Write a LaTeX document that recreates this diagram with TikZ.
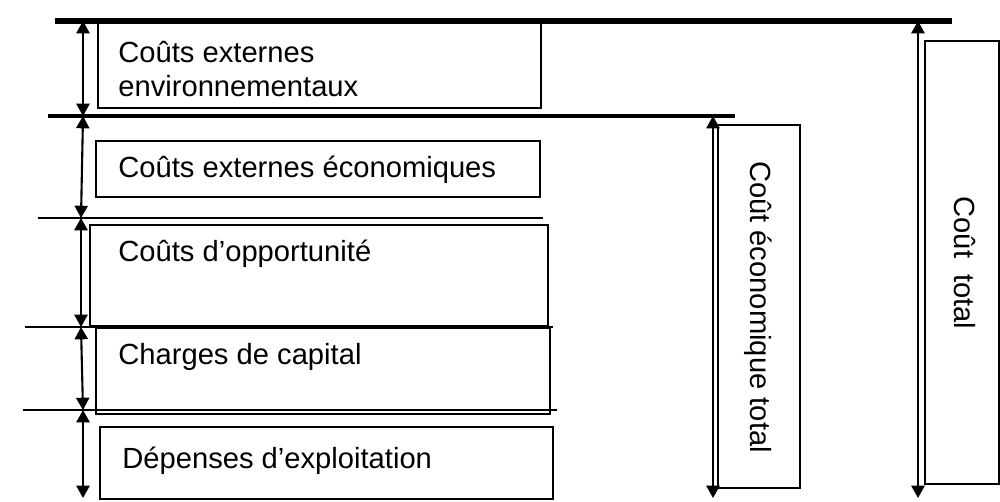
\documentclass[tikz,border=0pt]{standalone}
\usepackage{fontspec}
\setmainfont{Liberation Sans}
\usetikzlibrary{arrows.meta}
\tikzset{
  dimarrow/.style={{Triangle[width=7.5pt,length=7pt]}-{Triangle[width=7.5pt,length=7pt]},line width=1.2pt},
  costbox/.style={line width=0.9pt},
  costlabel/.style={anchor=west,inner sep=0pt,align=left,font=\fontsize{16.6}{19.4}\selectfont},
  totlabel/.style={rotate=-90,inner sep=0pt,font=\fontsize{16.6}{19.4}\selectfont}
}
\begin{document}
\begin{tikzpicture}[x=0.02cm,y=-0.02cm]
\useasboundingbox (0,0) rectangle (1000,501);
%LEVELS
\draw[line width=3pt] (55,21) -- (952,21);
\draw[line width=2.2pt] (48,116) -- (735,116);
\draw[line width=0.9pt] (38,218) -- (543,218);
\draw[line width=0.9pt] (25,327) -- (553,327);
\draw[line width=0.9pt] (23,410) -- (557,410);
%BOXES
\draw[costbox] (98,22) rectangle (541,108);
\draw[costbox] (96,141) rectangle (540,197);
\draw[costbox] (90,225) rectangle (548,326);
\draw[costbox] (96,328) rectangle (550,414);
\draw[costbox] (100,427) rectangle (553,499);
\draw[costbox] (718,125) rectangle (800,488);
\draw[costbox] (925,41) rectangle (999,484);
\node[costlabel] (env) at (118,69) {Coûts externes\\environnementaux};
\node[costlabel] (eco) at (118,170) {Coûts externes économiques};
\node[costlabel] (opp) at (118,254) {Coûts d’opportunité};
\node[costlabel] (cap) at (118,357) {Charges de capital};
\node[costlabel] (exp) at (122,461) {Dépenses d’exploitation};
\node[totlabel] (ecotot) at (758,307) {Coût économique total};
\node[totlabel] (tot) at (965,263) {Coût\ \ total};
%ARROWS
\coordinate (l0) at (83,21);
\coordinate (l1) at (83,116);
\coordinate (l2) at (81,218);
\coordinate (l3) at (81,327);
\coordinate (l4) at (83,410);
\coordinate (l5) at (83,498);
\draw[dimarrow] (l0) -- (l1);
\draw[dimarrow] (l1) -- (l2);
\draw[dimarrow] (l2) -- (l3);
\draw[dimarrow] (l3) -- (l4);
\draw[dimarrow] (l4) -- (l5);
\coordinate (e0) at (713,116);
\coordinate (e1) at (713,498);
\draw[dimarrow] (e0) -- (e1);
\coordinate (t0) at (918,21);
\coordinate (t1) at (918,498);
\draw[dimarrow] (t0) -- (t1);
\end{tikzpicture}
\end{document}
